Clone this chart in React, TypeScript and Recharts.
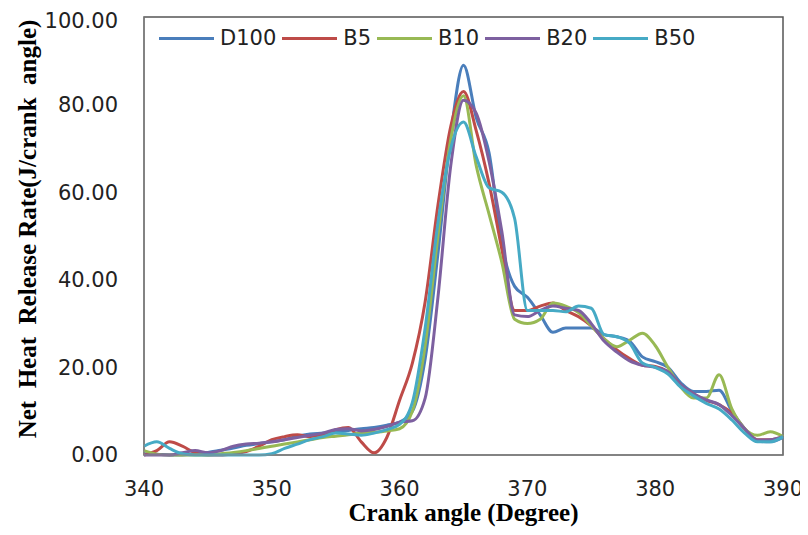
import React from 'react';
import {
	Label,
	Legend,
	Line,
	LineChart,
	ReferenceArea,
	XAxis,
	YAxis,
} from 'recharts';

const angles = [
	340, 341, 342, 343, 344, 345, 346, 347, 348, 349, 350, 351, 352, 353, 354,
	355, 356, 357, 358, 359, 360, 361, 362, 363, 364, 365, 366, 367, 368, 369,
	370, 371, 372, 373, 374, 375, 376, 377, 378, 379, 380, 381, 382, 383, 384,
	385, 386, 387, 388, 389, 390,
];

const d100 = [
	0.3, 0.2, 0, 0, 0.3, 0.6, 1.1, 1.6, 2.2, 2.6, 3.0, 3.5, 4.3, 4.8, 5.0, 5.3,
	5.6, 6.0, 6.3, 6.8, 7.5, 10, 22, 46, 73, 89, 77, 69, 48, 38.5, 36, 32, 28, 29,
	29, 29, 27.5, 27, 26, 22.4, 21.3, 20, 16.5, 14.5, 14.5, 14.8, 10, 6, 3.2, 3,
	4,
];

const b5 = [
	0, 1, 3, 2, 0.5, 0, 0, 0.3, 0.8, 2, 3.5, 4.2, 4.6, 4.2, 4.6, 5.8, 6.3, 3.0,
	0.5, 4, 12.5, 21, 35, 57, 75, 83, 74, 62, 47, 33, 33, 34, 34.7, 33, 31.6,
	29.5, 26.5, 24, 22, 20.5, 20.2, 19, 16, 14, 12.5, 11.5, 9.5, 6, 3.5, 3.5, 4.2,
];

const b10 = [
	1, 0.2, 0, 0, 0, 0, 0.3, 0.6, 1, 1.5, 2, 2.5, 3, 3.5, 4, 4.3, 4.6, 5, 5.2, 5.5,
	6, 10, 25, 50, 72, 82, 66, 55, 44, 31, 30, 31, 34.7, 34, 32.5, 29.5, 26.5,
	24.7, 26.2, 27.8, 25, 20, 15.5, 13, 13, 18.3, 10.5, 6, 4.5, 5.3, 4.2,
];

const b20 = [
	0, 0, 0, 0.5, 1, 0.5, 1, 2, 2.5, 2.7, 3, 3.5, 4, 4.5, 5, 5.8, 6, 5.5, 5.8, 6.5,
	7.5, 7.8, 13, 36, 66, 81, 78, 67, 51, 32, 31.6, 33, 34, 33.5, 33, 30, 26, 23.5,
	21.5, 20.5, 20, 19, 16, 14, 12.6, 11.5, 9, 6, 3.4, 3.5, 4.2,
];

const b50 = [
	2, 3, 1.5, 0.3, 0, 0, 0, 0, 0, 0, 0.3, 1.5, 2.5, 3.5, 4.2, 5, 4.8, 4.5, 5, 5.8,
	7, 12, 29, 53, 70, 76, 68, 61, 60, 54, 33, 33, 33, 32.7, 34, 33.5, 27.5, 27,
	25.5, 21, 20, 18.5, 15.5, 13.5, 11.8, 10.5, 8, 5, 3, 3, 4.2,
];

const xTicks = [340, 350, 360, 370, 380, 390];
const yTicks = [0, 20, 40, 60, 80, 100];

const series = [
	{ key: 'd100', name: 'D100', color: '#4a7ebb' },
	{ key: 'b5', name: 'B5', color: '#be4b48' },
	{ key: 'b10', name: 'B10', color: '#98b954' },
	{ key: 'b20', name: 'B20', color: '#7d60a0' },
	{ key: 'b50', name: 'B50', color: '#46aac5' },
];

const data = angles.map((angle, i) => ({
	angle,
	d100: d100[i],
	b5: b5[i],
	b10: b10[i],
	b20: b20[i],
	b50: b50[i],
}));

const tickStyle = { fontFamily: 'DejaVu Sans', fontSize: 21, fill: '#222' };
const titleStyle = {
	fontFamily: 'Liberation Serif',
	fontWeight: 'bold' as const,
	fontSize: 25,
	fill: '#000',
};

const LegendContent = () => (
	<div style={{ display: 'flex', alignItems: 'center', height: 30 }}>
		{series.map((s) => (
			<div key={s.key} style={{ display: 'flex', alignItems: 'center' }}>
				<div style={{ width: 55, height: 3, background: s.color }} />
				<span
					style={{
						fontFamily: 'DejaVu Sans',
						fontSize: 21,
						color: '#222',
						marginLeft: 6,
						marginRight: 6,
					}}
				>
					{s.name}
				</span>
			</div>
		))}
	</div>
);

export default function App() {
	return (
		<div style={{ width: 800, height: 527 }}>
			<LineChart
				width={800}
				height={527}
				data={data}
				margin={{ top: 9, right: 25, bottom: 0, left: 0 }}
			>
				<XAxis
					dataKey='angle'
					type='number'
					domain={[340, 390]}
					ticks={xTicks}
					height={80}
					tickLine={false}
					tickSize={0}
					tickMargin={26}
					tick={tickStyle}
					axisLine={{ stroke: '#888' }}
				>
					<Label
						value='Crank angle (Degree)'
						position='insideBottom'
						offset={14}
						style={titleStyle}
					/>
				</XAxis>
				<YAxis
					type='number'
					domain={[0, 100]}
					ticks={yTicks}
					width={136}
					tickLine={false}
					tickSize={0}
					tickMargin={26}
					tick={tickStyle}
					tickFormatter={(v: number) => v.toFixed(2)}
					axisLine={{ stroke: '#888' }}
				>
					<Label
						content={() => (
							<text
								x={28}
								y={221}
								transform='rotate(-90 28 221)'
								textAnchor='middle'
								style={{ ...titleStyle, whiteSpace: 'pre' }}
							>
								{'Net  Heat  Release Rate(J/crank  angle)'}
							</text>
						)}
					/>
				</YAxis>
				<ReferenceArea
					x1={340}
					x2={390}
					y1={0}
					y2={100}
					fill='none'
					stroke='#555'
					strokeWidth={1.5}
					ifOverflow='visible'
				/>
				<Legend
					layout='horizontal'
					verticalAlign='middle'
					align='center'
					content={LegendContent}
					wrapperStyle={{ left: 151, top: 15, width: 560, height: 30 }}
				/>
				{series.map((s) => (
					<Line
						key={s.key}
						type='monotone'
						dataKey={s.key}
						name={s.name}
						stroke={s.color}
						strokeWidth={3}
						dot={false}
						activeDot={false}
						isAnimationActive={false}
					/>
				))}
			</LineChart>
		</div>
	);
}
